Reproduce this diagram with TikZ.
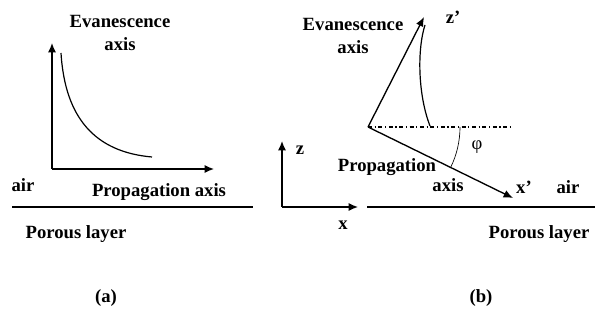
\documentclass[tikz,border=0pt]{standalone}
\usepackage{fontspec}
\setmainfont{Liberation Serif}
\usetikzlibrary{positioning,calc,arrows.meta}

\begin{document}
\begin{tikzpicture}[x=0.75pt, y=-0.75pt,
	every node/.style={font=\fontsize{14}{17}\selectfont\bfseries, inner sep=1pt},
	axis/.style={line width=1pt, -{Latex[length=7pt,width=6pt]}}]
	\useasboundingbox (0,0) rectangle (595,320);
	% (a)
	\coordinate (Oa) at (52,169);
	\coordinate (Za) at (52,43);
	\coordinate (Xa) at (214,169);
	\draw[axis] (Oa) -- (Za);
	\draw[axis] (Oa) -- (Xa);
	\coordinate (Ca) at (61,53);
	\coordinate (Da) at (152,157);
	\draw[line width=0.9pt] (Ca) .. controls (65,118) and (95,152) .. (Da);
	\node[align=center] (Eva) at (120,33) {Evanescence\\axis};
	\node (AirA) at (23,185) {air};
	\node (PropA) at (159,192) {Propagation axis};
	\coordinate (La) at (12,207);
	\coordinate (Ra) at (253,207);
	\draw[line width=1pt] (La) -- (Ra);
	\node (PorA) at (76,234) {Porous layer};
	\node (CapA) at (106,298) {(a)};
	% (b)
	\coordinate (Ob) at (282,207);
	\coordinate (Zb) at (282,141);
	\coordinate (Xb) at (358,207);
	\draw[axis] (Ob) -- (Zb);
	\draw[axis] (Ob) -- (Xb);
	\node (Z) at (300,150) {z};
	\node (X) at (343,225) {x};
	\coordinate (Lb) at (367,207);
	\coordinate (Rb) at (595,207);
	\draw[line width=1pt] (Lb) -- (Rb);
	\coordinate (O) at (368,127);
	\coordinate (Zp) at (424,17);
	\coordinate (Xp) at (513,198);
	\coordinate (H) at (510,127);
	\draw[axis] (O) -- (Zp);
	\draw[axis] (O) -- (Xp);
	\draw[line width=0.8pt, dash dot] (O) -- (H);
	\draw[line width=0.9pt] (430,126) .. controls (418,95) and (417,50) .. (425,25);
	\draw[line width=0.5pt] ($(O)+(92,0)$) arc[start angle=0, end angle=25.9, radius=92];
	\node (Phi) at (477,147) {\mdseries φ};
	\node (ZpL) at (453,17) {z'};
	\node (XpL) at (524,187) {x'};
	\node (AirB) at (568,187) {air};
	\node[align=center] (Evb) at (353,36) {Evanescence\\axis};
	\node (PropB) at (387,167) {Propagation};
	\node (AxB) at (448,185) {axis};
	\node (PorB) at (539,234) {Porous layer};
	\node (CapB) at (481,298) {(b)};
\end{tikzpicture}
\end{document}
